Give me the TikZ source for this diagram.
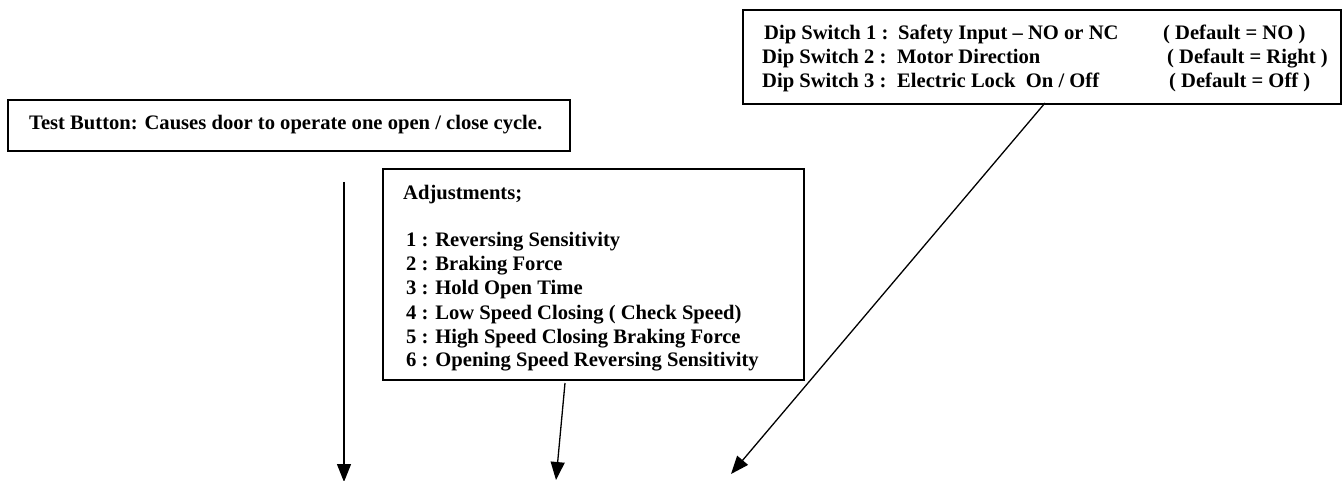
\documentclass[tikz,border=0pt]{standalone}
\usepackage{fontspec}
\setmainfont{Liberation Serif}
\usetikzlibrary{arrows.meta}
\tikzset{
  box/.style={draw=black, line width=1.8pt, fill=white, inner sep=0pt, anchor=north west},
  txt/.style={inner sep=0pt, anchor=base west, font=\fontsize{20.6}{24}\selectfont\bfseries},
  arr/.style={line width=1.3pt, -{Triangle[length=18pt,width=14pt]}}
}
\begin{document}
\begin{tikzpicture}[x=1pt,y=-1pt]
\useasboundingbox (0,0) rectangle (1343,481);
% boxes
\node[box, minimum width=598pt, minimum height=94pt] (dip) at (742,9) {};
\node[box, minimum width=562pt, minimum height=51pt] (test) at (7,99) {};
\node[box, minimum width=421pt, minimum height=211pt] (adj) at (382,168) {};
% dip switch text
\node[txt] (d1a) at (764,40) {Dip Switch 1 :};
\node[txt] (d1b) at (898,40) {Safety Input -- NO or NC};
\node[txt] (d1c) at (1163,40) {( Default = NO )};
\node[txt] (d2a) at (762,64) {Dip Switch 2 :};
\node[txt] (d2b) at (897,64) {Motor Direction};
\node[txt] (d2c) at (1167,64) {( Default = Right )};
\node[txt] (d3a) at (762,88) {Dip Switch 3 :};
\node[txt] (d3b) at (897,88) {Electric Lock\ \ On / Off};
\node[txt] (d3c) at (1169,88) {( Default = Off )};
% test text
\node[txt] (t1) at (29,130) {Test Button: Causes door to operate one open / close cycle.};
% adjustments text
\node[txt] (a0) at (403,200) {Adjustments;};
\node[txt] (a1) at (406,246) {1 : Reversing Sensitivity};
\node[txt] (a2) at (406,270) {2 : Braking Force};
\node[txt] (a3) at (406,294) {3 : Hold Open Time};
\node[txt] (a4) at (406,319) {4 : Low Speed Closing ( Check Speed)};
\node[txt] (a5) at (406,343) {5 : High Speed Closing Braking Force};
\node[txt] (a6) at (406,366) {6 : Opening Speed Reversing Sensitivity};
% arrows
\coordinate (s1) at (344,182);
\coordinate (e1) at (344,482);
\coordinate (s2) at (565,383);
\coordinate (e2) at (556,480);
\coordinate (s3) at (1045,103);
\coordinate (e3) at (731,474);
\draw[arr] (s1) -- (e1);
\draw[arr] (s2) -- (e2);
\draw[arr] (s3) -- (e3);
\end{tikzpicture}
\end{document}
